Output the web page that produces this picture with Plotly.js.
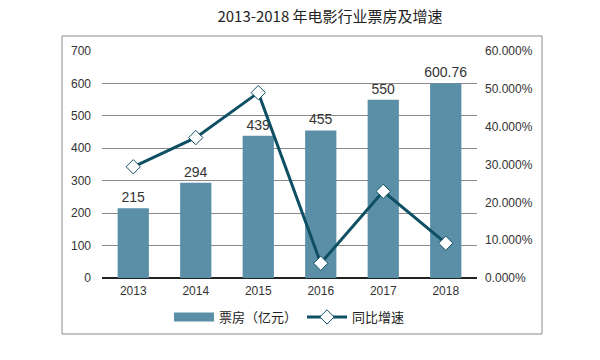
<!DOCTYPE html>
<html>
<head>
<meta charset="utf-8">
<script src="https://cdn.plot.ly/plotly-3.0.1.min.js"></script>
<style>body{margin:0;background:#fff}#chart{width:600px;height:360px}</style>
</head>
<body>
<div id="chart"></div>
<script>
var years = ['2013','2014','2015','2016','2017','2018'];
var boxOffice = [215, 294, 439, 455, 550, 600.76];
var growth = [0.294, 0.371, 0.490, 0.039, 0.229, 0.092];
var leftTicks = [0,100,200,300,400,500,600,700];
var rightTicks = [0,0.1,0.2,0.3,0.4,0.5,0.6];
var barColor = '#5b8fa8';
var lineColor = '#0e4f63';

var bars = {
  type:'bar', x: years, y: boxOffice, name:'票房（亿元）', showlegend:false,
  marker:{color:barColor}, width:0.5,
  text: boxOffice.map(String), textposition:'outside', cliponaxis:false, constraintext:'none',
  textfont:{family:'Liberation Sans, Arial, sans-serif', size:14, color:'#333'},
  hoverinfo:'none'
};
var barLegend = {
  type:'scatter', mode:'lines', x:[null], y:[null], name:'票房（亿元）',
  line:{color:barColor, width:9}, hoverinfo:'none'
};
var line = {
  type:'scatter', mode:'lines+markers', x: years, y: growth, yaxis:'y2', name:'同比增速',
  line:{color:lineColor, width:3},
  marker:{symbol:'diamond', size:11, color:'#ffffff', line:{color:lineColor, width:1}},
  cliponaxis:false, hoverinfo:'none'
};
var ml=102, mr=123, mt=51, mb=82;
var pw=600-ml-mr, ph=360-mt-mb;
var layout = {
  width:600, height:360,
  margin:{l:ml, r:mr, t:mt, b:mb},
  paper_bgcolor:'#fff', plot_bgcolor:'#fff',
  font:{family:'Liberation Sans, Arial, sans-serif', size:12, color:'#333'},
  title:{text:'2013-2018 年电影行业票房及增速', x:330/600, xanchor:'center', y:1-17/360, yanchor:'middle', yref:'container',
    font:{family:'Noto Sans CJK SC, sans-serif', size:15, color:'#222'}},
  bargap:0.5,
  xaxis:{type:'category', showgrid:false, ticks:'', showline:false, zeroline:false, ticklabelstandoff:4,
    tickfont:{size:12, color:'#333'}},
  yaxis:{range:[0,700], tickvals:leftTicks, showgrid:true, gridcolor:'#8a8a8a', gridwidth:1,
    zeroline:true, zerolinecolor:'#222', zerolinewidth:1.5, ticks:'', ticklabelstandoff:10,
    tickfont:{size:12, color:'#333'}},
  yaxis2:{range:[0,0.6], tickvals:rightTicks, tickformat:'.3%', overlaying:'y', side:'right',
    showgrid:false, zeroline:false, ticks:'', ticklabelstandoff:7, tickfont:{size:12, color:'#333'}},
  showlegend:true,
  legend:{orientation:'h', x:0.5, xanchor:'center', y:(278-317)/ph, yanchor:'middle',
    font:{family:'Noto Sans CJK SC, sans-serif', size:13, color:'#222'}, itemwidth:40, traceorder:'normal'},
  shapes:[{type:'rect', xref:'paper', yref:'paper',
    x0:(62-ml)/pw, x1:(542-ml)/pw, y0:(278-334)/ph, y1:(278-36)/ph,
    line:{color:'#8a8a8a', width:1}, fillcolor:'rgba(0,0,0,0)', layer:'below'}]
};
Plotly.newPlot('chart', [bars, barLegend, line], layout, {displayModeBar:false, staticPlot:true});
</script>
</body>
</html>
